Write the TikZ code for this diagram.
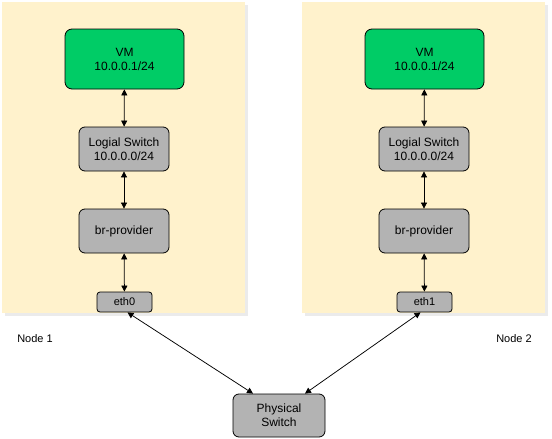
\documentclass[tikz,border=0pt]{standalone}
\usepackage{fontspec}
\setmainfont{Liberation Sans}
\usetikzlibrary{arrows.meta}
\definecolor{panelfill}{HTML}{FFF2CC}
\definecolor{vmgreen}{HTML}{00CC66}
\definecolor{boxgrey}{HTML}{B3B3B3}
\begin{document}
\begin{tikzpicture}[x=1pt,y=-1pt,
  every node/.style={font=\fontsize{12}{14}\selectfont, align=center, inner sep=0pt},
  vmbox/.style={draw=black, line width=0.8pt, fill=vmgreen, rounded corners=7pt, minimum width=119pt, minimum height=60pt},
  greybox/.style={draw=black, line width=0.8pt, fill=boxgrey, rounded corners=6pt, minimum width=90pt, minimum height=44pt},
  portbox/.style={draw=black, line width=0.8pt, fill=boxgrey, rounded corners=3pt, minimum width=55pt, minimum height=20pt, font=\fontsize{11}{13}\selectfont},
  link/.style={{Triangle[length=6pt,width=6pt]}-{Triangle[length=6pt,width=6pt]}, line width=0.75pt},
  plain/.style={font=\fontsize{11}{13}\selectfont}]
\useasboundingbox (0,0) rectangle (552,439);
\fill[white] (0,0) rectangle (552,439);

% host panels with a faint drop shadow
\foreach \dx in {0,300}{
  \fill[black!8] (\dx+5,5) rectangle (\dx+248,316);
  \fill[panelfill] (\dx+2,2) rectangle (\dx+245,313);
}

% node 1
\node[vmbox]   (vmA)  at (124.5,59)  {VM\\10.0.0.1/24};
\node[greybox] (lsA)  at (124,149)  {Logial Switch\\10.0.0.0/24};
\node[greybox] (brA)  at (124,231)  {br-provider};
\node[portbox] (ethA) at (124.5,302) {eth0};

% node 2
\node[vmbox]   (vmB)  at (424.5,59)  {VM\\10.0.0.1/24};
\node[greybox] (lsB)  at (424,149)  {Logial Switch\\10.0.0.0/24};
\node[greybox] (brB)  at (424,231)  {br-provider};
\node[portbox] (ethB) at (424.5,302) {eth1};

% physical switch
\node[greybox, minimum width=92pt, minimum height=43pt] (phys) at (279,415.5) {Physical\\Switch};

% labels
\node[plain] (lblA) at (35,339) {Node 1};
\node[plain] (lblB) at (514,339) {Node 2};

% links
\draw[link] (vmA) -- (lsA);
\draw[link] (lsA) -- (brA);
\draw[link] (brA) -- (ethA);
\draw[link] (vmB) -- (lsB);
\draw[link] (lsB) -- (brB);
\draw[link] (brB) -- (ethB);
\draw[link] ([xshift=3pt]ethA.south) -- ([xshift=-26pt]phys.north);
\draw[link] ([xshift=-4pt]ethB.south) -- ([xshift=26pt]phys.north);
\end{tikzpicture}
\end{document}
